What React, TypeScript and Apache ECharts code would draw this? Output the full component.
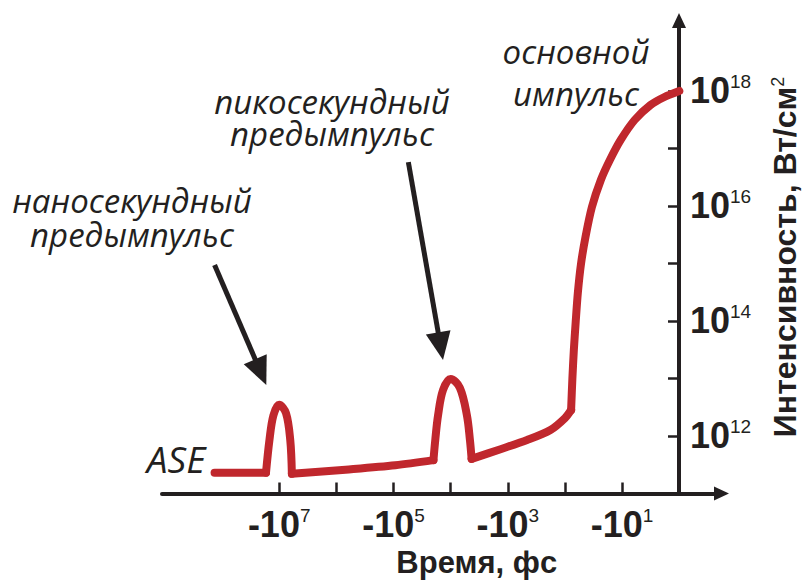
import React, { useEffect, useRef } from 'react';
import * as echarts from 'echarts';

const INK = '#231f20';
const RED = '#c0272d';

// |t| before the main pulse peak, fs  and  intensity, W/cm^2
const aseTime = [1.35e8, 1.7e7];
const aseIntensity = [2.3e11, 2.3e11];
const nsTime = [1.7e7, 1.48e7, 1.26e7, 1.0e7, 7.6e6, 6.4e6, 6.0e6];
const nsIntensity = [2.3e11, 8.5e11, 2.3e12, 3.5e12, 2.5e12, 8.5e11, 2.2e11];
const pedestalTime = [6.0e6, 6.9e5, 9.3e4, 2.0e4];
const pedestalIntensity = [2.2e11, 2.6e11, 3.1e11, 3.8e11];
const psTime = [2.0e4, 1.86e4, 1.66e4, 1.36e4, 1.0e4, 6.9e3, 5.2e3, 4.6e3, 4.3e3];
const psIntensity = [3.8e11, 8.5e11, 2.3e12, 6.3e12, 9.8e12, 6.9e12, 2.3e12, 8.5e11, 4.0e11];
const riseTime = [4.3e3, 1.34e3, 4.6e2, 1.8e2, 1.0e2, 78.2];
const riseIntensity = [4.0e11, 5.9e11, 8.5e11, 1.27e12, 2.05e12, 2.83e12];
const mainTime = [78.2, 74.3, 70.0, 65.0, 59.6, 52.5, 43.8, 33.8, 23.6, 16.4, 10.6, 6.05, 3.19, 1.82, 1];
const mainIntensity = [2.83e12, 9.8e12, 3.13e13, 9.6e13, 3.07e14, 9.8e14, 2.89e15, 9.6e15, 2.83e16, 6.3e16, 1.41e17, 3.13e17, 5.71e17, 7.87e17, 1.0e18];

// axis decades (exponents of 10)
const xTickExp = [1, 2, 3, 4, 5, 6, 7];
const xLabelExp = [1, 3, 5, 7];
const yTickExp = [12, 13, 14, 15, 16, 17, 18];
const yLabelExp = [12, 14, 16, 18];
const xRangeExp = [-0.738, 9.05];
const yRangeExp = [11, 19.226];

// annotation arrows: [start |t|, start I, end |t|, end I]
const arrowNs = [1.35e8, 9.4e14, 2.1e7, 1.29e13];
const arrowPs = [5.5e4, 5.8e16, 1.5e4, 3.65e13];

const annNs = ['наносекундный', 'предымпульс'];
const annPs = ['пикосекундный', 'предымпульс'];
const annMain = ['основной', 'импульс'];
const annAse = 'ASE';
const xName = 'Время, фс';
const yName = 'Интенсивность, Вт/см';

const lg = (v: number) => Math.log10(v);
const toPts = (ts: number[], is: number[]) => ts.map((t, i) => [lg(t), lg(is[i])]);

const lineSeries = (name: string, ts: number[], is: number[], smooth: number | boolean, extra: any = {}) => ({
  type: 'line',
  name,
  data: toPts(ts, is),
  showSymbol: false,
  symbol: 'none',
  smooth,
  silent: true,
  z: 3,
  lineStyle: { width: 8, color: RED, cap: 'round', join: 'round' },
  ...extra,
});

const labelRich = {
  b: { fontSize: 36, fontWeight: 'bold', fontFamily: 'Liberation Sans', color: INK, lineHeight: 38 },
  s: { fontSize: 19, fontFamily: 'Liberation Sans', color: INK, lineHeight: 19, verticalAlign: 'top' },
};

const annFont = { fontStyle: 'italic', fontSize: 33, fontFamily: 'Open Sans', fill: INK, textAlign: 'center', textVerticalAlign: 'middle' };

const annText = (lines: string[] | string, x: number, y: number, lineHeight = 34, size = 33) => ({
  type: 'text',
  x,
  y,
  silent: true,
  style: { ...annFont, fontSize: size, lineHeight, text: Array.isArray(lines) ? lines.join('\n') : lines },
});

export default function App() {
  const ref = useRef<HTMLDivElement>(null);
  useEffect(() => {
    document.body.style.margin = '0';
    const chart = echarts.init(ref.current!, null, { renderer: 'svg' });
    const option: any = {
      animation: false,
      backgroundColor: '#ffffff',
      grid: { left: 162, right: 83.5, top: 20.5, bottom: 90.5, containLabel: false },
      xAxis: {
        type: 'value',
        inverse: true,
        min: xRangeExp[0],
        max: xRangeExp[1],
        name: xName,
        nameLocation: 'middle',
        nameGap: 53,
        nameTextStyle: { fontSize: 31, fontWeight: 'bold', fontFamily: 'Liberation Sans', color: INK, lineHeight: 31, padding: [0, 0, 0, 70] },
        axisLine: { show: true, symbol: ['none', 'triangle'], symbolSize: [14, 15], lineStyle: { color: INK, width: 4 } },
        axisTick: { show: true, inside: true, length: 11, customValues: xTickExp, lineStyle: { color: INK, width: 2.5 } },
        axisLabel: {
          show: true,
          margin: 12,
          customValues: xLabelExp,
          formatter: (v: number) => '{b|-10}{s|' + v + '}',
          rich: labelRich,
        },
        splitLine: { show: false },
      },
      yAxis: {
        type: 'value',
        position: 'right',
        offset: -42.5,
        min: yRangeExp[0],
        max: yRangeExp[1],
        name: '{a|' + yName + '}{s|2}',
        nameLocation: 'middle',
        nameGap: 90,
        nameTextStyle: {
          rich: {
            a: { fontSize: 32, fontWeight: 'bold', fontFamily: 'Liberation Sans', color: INK, lineHeight: 32 },
            s: { fontSize: 18, fontFamily: 'Liberation Sans', color: INK, lineHeight: 17, verticalAlign: 'top' },
          },
        },
        axisLine: { show: true, symbol: ['none', 'triangle'], symbolSize: [14, 15], lineStyle: { color: INK, width: 4 } },
        axisTick: { show: true, inside: true, length: 11, customValues: yTickExp, lineStyle: { color: INK, width: 2.5 } },
        axisLabel: {
          show: true,
          margin: 11,
          customValues: yLabelExp,
          formatter: (v: number) => '{b|10}{s|' + v + '}',
          rich: labelRich,
        },
        splitLine: { show: false },
      },
      series: [
        lineSeries('ASE', aseTime, aseIntensity, false, {
          markLine: {
            silent: true,
            symbol: ['none', 'triangle'],
            symbolSize: [25, 28],
            label: { show: false },
            emphasis: { disabled: true },
            lineStyle: { color: INK, width: 5, type: 'solid' },
            data: [arrowNs, arrowPs].map((a) => [
              { coord: [lg(a[0]), lg(a[1])] },
              { coord: [lg(a[2]), lg(a[3])] },
            ]),
          },
        }),
        lineSeries('ns', nsTime, nsIntensity, 0.35),
        lineSeries('pedestal', pedestalTime, pedestalIntensity, 0.3),
        lineSeries('ps', psTime, psIntensity, 0.35),
        lineSeries('rise', riseTime, riseIntensity, 0.3),
        lineSeries('main', mainTime, mainIntensity, 0.25),
      ],
      graphic: [
        annText(annNs, 132, 217, 34),
        annText(annPs, 332, 117, 32),
        annText(annMain, 576, 72, 42),
        annText(annAse, 176, 458, 37, 37),
      ],
    };
    chart.setOption(option);
    return () => chart.dispose();
  }, []);
  return <div ref={ref} style={{ width: 809, height: 584, background: '#fff' }} />;
}
